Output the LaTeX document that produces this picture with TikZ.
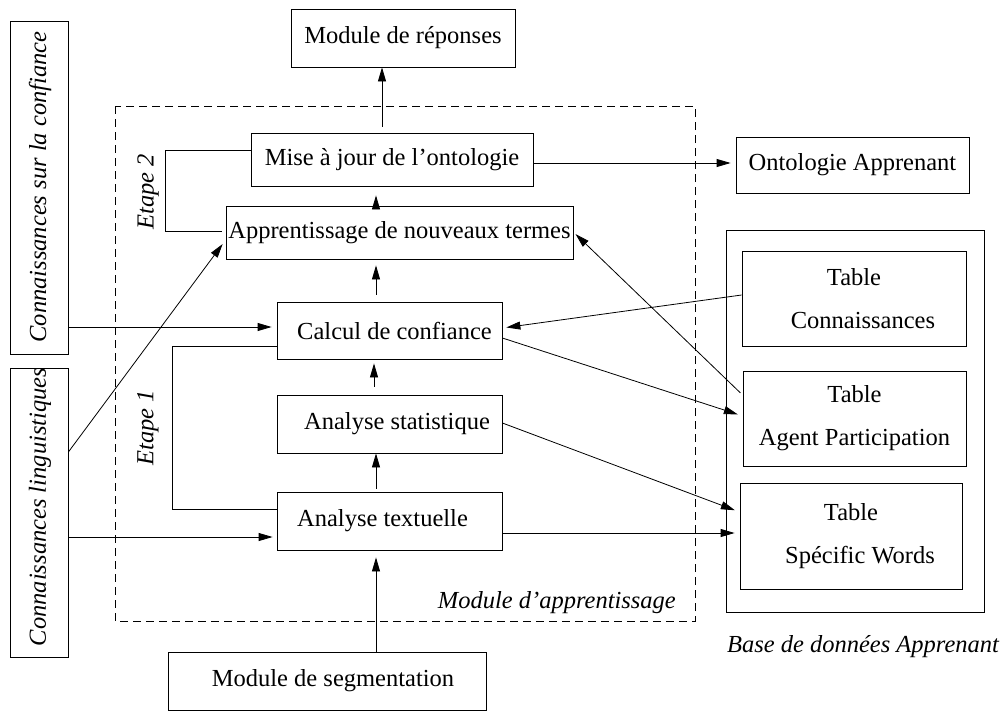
\documentclass[tikz,border=0pt]{standalone}
\usepackage{fontspec}
\setmainfont{Liberation Serif}
\usetikzlibrary{arrows.meta,calc}
\begin{document}
\begin{tikzpicture}[x=1pt,y=-1pt,
  every node/.style={font=\fontsize{24.5}{43}\selectfont},
  box/.style={draw, line width=0.8pt, inner sep=0pt, align=center},
  lbl/.style={font=\fontsize{24.5}{29}\selectfont\itshape, inner sep=0pt},
  arr/.style={-{Triangle[length=14pt,width=8pt]}, line width=0.8pt},
  ln/.style={line width=0.8pt}]
\useasboundingbox (0,0) rectangle (1005,713);
% dashed module frame
\draw[line width=0.8pt, dash pattern=on 8pt off 5pt] (115,106) rectangle (695,621);
\node[lbl, anchor=base east] (lapp) at (676,608) {Module d’apprentissage};
% main boxes
\node[box, minimum width=224pt, minimum height=58pt] (rep) at (403,38) {Module de réponses};
\node[box, minimum width=282pt, minimum height=53pt] (maj) at (392,159.5) {Mise à jour de l’ontologie};
\node[box, minimum width=347pt, minimum height=53pt] (app) at (399.5,232.5) {Apprentissage de nouveaux termes};
\node[box, minimum width=225pt, minimum height=57pt] (calc) at (389.5,330.5) {\hspace*{10pt}Calcul de confiance};
\node[box, minimum width=225pt, minimum height=58pt] (stat) at (389.5,424) {\hspace*{15pt}Analyse statistique};
\node[box, minimum width=225pt, minimum height=58pt] (text) at (389.5,521) {Analyse textuelle\hspace*{14pt}};
\node[box, minimum width=318pt, minimum height=58pt] (seg) at (327,681) {\hspace*{12pt}Module de segmentation};
% left knowledge boxes
\node[box, minimum width=58pt, minimum height=333pt] (kconf) at (39,187.5) {};
\node[lbl, rotate=90] (tkconf) at (40,187) {Connaissances sur la confiance};
\node[box, minimum width=58pt, minimum height=289pt] (kling) at (39,512.5) {};
\node[lbl, rotate=90] (tkling) at (40,507) {Connaissances linguistiques};
% right side
\node[box, minimum width=233pt, minimum height=56pt] (onto) at (852.5,165) {Ontologie Apprenant};
\draw[ln] (726,230) rectangle (984,612);
\node[lbl, anchor=base] (lbase) at (863,652) {Base de données Apprenant};
\node[box, minimum width=224pt, minimum height=95pt] (tconn) at (854,298.5) {Table\\\hspace*{18pt}Connaissances};
\node[box, minimum width=223pt, minimum height=95pt] (tagent) at (854.5,418.5) {Table\\Agent Participation};
\node[box, minimum width=222pt, minimum height=106pt] (tspec) at (851,536) {Table\\\hspace*{18pt}Spécific Words};
% step labels
\node[lbl, rotate=90] (e2) at (148,192) {Etape 2};
\node[lbl, rotate=90] (e1) at (148,428) {Etape 1};
% vertical flow
\draw[arr, shorten <=6pt] (382,0 |- maj.north) -- (382,0 |- rep.south);
\draw[arr, shorten >=9pt] (376,0 |- app.north) -- (376,0 |- maj.south);
\draw[arr, shorten <=7pt, shorten >=6pt] (376,0 |- calc.north) -- (376,0 |- app.south);
\draw[arr, shorten <=8pt, shorten >=4pt] (374,0 |- stat.north) -- (374,0 |- calc.south);
\draw[arr, shorten <=3pt] (376,0 |- text.north) -- (376,0 |- stat.south);
\draw[arr, shorten >=7pt] (376,0 |- seg.north) -- (376,0 |- text.south);
% horizontal flow
\draw[arr, shorten >=5pt] (maj.east |- 0,163) -- (onto.west |- 0,163);
\draw[arr, shorten >=5pt] (kconf.east |- 0,327) -- (calc.west |- 0,327);
\draw[arr, shorten >=4pt] (kling.east |- 0,537) -- (text.west |- 0,537);
\draw[arr, shorten >=5pt] (text.east |- 0,533) -- (tspec.west |- 0,533);
% diagonals
\draw[arr, shorten >=5pt] (kling.east |- 0,452) -- (app.west |- 0,240);
\draw[arr, shorten >=4pt] (tconn.west |- 0,295) -- (calc.east |- 0,328);
\draw[arr, shorten <=3pt, shorten >=3pt] (tagent.west |- 0,395) -- (app.east |- 0,232);
\draw[arr, shorten >=5pt] (calc.east |- 0,338) -- (tagent.west |- 0,416);
\draw[arr, shorten >=5pt] (stat.east |- 0,423) -- (tspec.west |- 0,512);
% step brackets
\draw[ln] (maj.west |- 0,150) -- (165,150) -- (165,231) -- ([xshift=-4pt]app.west |- 0,231);
\draw[ln] (calc.west |- 0,346) -- (172,346) -- (172,509) -- (text.west |- 0,509);
\end{tikzpicture}
\end{document}
